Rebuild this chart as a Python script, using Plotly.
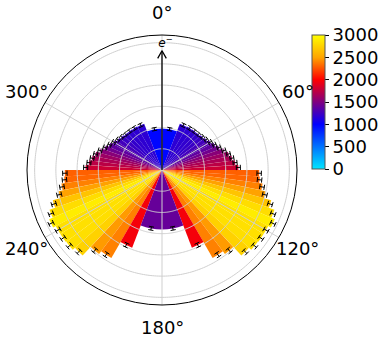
import numpy as np
import plotly.graph_objects as go

# ---- data -------------------------------------------------------------
# bin edges in polar angle (degrees), one hemisphere 0..180 (mirrored to 180..360)
bin_edges_deg = [0, 21.04, 29.93, 36.87, 42.83, 48.19, 53.13, 57.77, 62.18, 66.42,
                 70.53, 74.53, 78.46, 82.34, 86.18, 90, 93.82, 97.66, 101.54, 105.47,
                 109.47, 113.58, 117.82, 122.23, 126.87, 131.81, 137.17, 143.13,
                 150.07, 158.96, 180]
counts = [980, 1170, 1180, 1190, 1200, 1225, 1260, 1310, 1370, 1440, 1530, 1610, 1670,
          1730, 1800,
          2290, 2310, 2390, 2490, 2670, 2810, 2900, 2830, 2830, 2820, 2750, 2470, 2390,
          1960, 1400]
errors = [35, 40, 40, 40, 40, 40, 40, 42, 42, 43, 44, 45, 46, 47, 48,
          52, 52, 53, 54, 55, 56, 57, 56, 56, 56, 55, 53, 52, 48, 40]
angle_ticks = [0, 60, 120, 180, 240, 300]
angle_labels = ["0°", "60°", "120°", "180°", "240°", "300°"]
cbar_ticks = [0, 500, 1000, 1500, 2000, 2500, 3000]
grid_r = [500, 1000, 1500, 2000, 2500, 3000]
beam_label = "<i>e</i><sup>−</sup>"
beam_length = 2810

# ---- styling / geometry --------------------------------------------------
W, H = 382, 340
CX, CY, R_PX = 162, 170, 135
LABEL_R_PX = 157
R_MAX = 3180
PX_PER_UNIT = R_PX / R_MAX
CAP_HALF_PX = 2.6
FONT = "DejaVu Sans"
colorscale = [[0.0, "#00e6ff"], [1 / 3, "#0000ff"], [0.5, "#800080"],
              [2 / 3, "#ff0000"], [5 / 6, "#ffa500"], [1.0, "#ffff00"]]

edges = np.array(bin_edges_deg)
centers = (edges[:-1] + edges[1:]) / 2
widths = np.diff(edges)

theta = np.concatenate([centers, 360 - centers])
width = np.concatenate([widths, widths])
r = np.array(counts + counts, dtype=float)
err = np.array(errors + errors, dtype=float)

fig = go.Figure()

fig.add_trace(go.Barpolar(
    r=r, theta=theta, width=width,
    marker=dict(color=r, colorscale=colorscale, cmin=0, cmax=3000,
                line=dict(width=0),
                colorbar=dict(thickness=13, thicknessmode="pixels",
                              len=134, lenmode="pixels",
                              x=312 / W, xanchor="left", y=1 - 35 / H, yanchor="top",
                              xpad=0, ypad=0, outlinewidth=1, outlinecolor="#555555",
                              ticks="outside", ticklen=4, tickcolor="black",
                              tickvals=cbar_ticks,
                              tickfont=dict(family=FONT, size=18, color="black"))),
    showlegend=False, hoverinfo="skip"))

# grid overlay (drawn above bars as in the reference)
gr, gt = [], []
circ = np.linspace(0, 360, 361)
for g in grid_r:
    gr += [g] * len(circ) + [None]
    gt += list(circ) + [None]
for a in angle_ticks:
    gr += [0, R_MAX, None]
    gt += [a, a, None]
fig.add_trace(go.Scatterpolar(r=gr, theta=gt, mode="lines",
                              line=dict(color="#cfcfcf", width=1),
                              showlegend=False, hoverinfo="skip"))

# error bars
er, et = [], []
for c, v, e in zip(theta, r, err):
    for rr in (v - e, v + e):
        d = np.degrees(CAP_HALF_PX / (rr * PX_PER_UNIT))
        er += [rr, rr, None]
        et += [c - d, c + d, None]
    er += [v - e, v + e, None]
    et += [c, c, None]
fig.add_trace(go.Scatterpolar(r=er, theta=et, mode="lines",
                              line=dict(color="black", width=1),
                              showlegend=False, hoverinfo="skip"))

# beam arrow
tip_px = beam_length * PX_PER_UNIT
back_px, side_px = 7.7, 4.3
wing_r = np.hypot(tip_px - back_px, side_px) / PX_PER_UNIT
wing_t = np.degrees(np.arctan2(side_px, tip_px - back_px))
fig.add_trace(go.Scatterpolar(
    r=[0, beam_length, None, wing_r, beam_length, wing_r],
    theta=[0, 0, None, -wing_t, 0, wing_t],
    mode="lines", line=dict(color="black", width=1.3),
    showlegend=False, hoverinfo="skip"))
fig.add_trace(go.Scatterpolar(
    r=[2975], theta=[1.6], mode="text", text=[beam_label],
    textposition="middle center",
    textfont=dict(family=FONT, size=12, color="black"),
    showlegend=False, hoverinfo="skip"))

# angular tick labels, centred on a circle just outside the frame
annotations = []
for a, lab in zip(angle_ticks, angle_labels):
    ang = np.radians(a)
    annotations.append(dict(
        text=lab, showarrow=False, xref="paper", yref="paper",
        x=(CX + LABEL_R_PX * np.sin(ang)) / W,
        y=1 - (CY - LABEL_R_PX * np.cos(ang)) / H,
        xanchor="center", yanchor="middle",
        font=dict(family=FONT, size=18, color="black")))

fig.update_layout(
    width=W, height=H, autosize=False,
    margin=dict(l=0, r=0, t=0, b=0, pad=0, autoexpand=False),
    paper_bgcolor="white", plot_bgcolor="white",
    font=dict(family=FONT, size=18, color="black"),
    annotations=annotations,
    polar=dict(
        domain=dict(x=[(CX - R_PX) / W, (CX + R_PX) / W],
                    y=[1 - (CY + R_PX) / H, 1 - (CY - R_PX) / H]),
        bgcolor="white",
        bargap=0,
        radialaxis=dict(range=[0, R_MAX], showgrid=False, showline=False,
                        showticklabels=False, ticks=""),
        angularaxis=dict(rotation=90, direction="clockwise",
                         tickmode="array", tickvals=angle_ticks,
                         showticklabels=False, ticks="",
                         showgrid=False, showline=True, linecolor="black", linewidth=1),
    ),
)

fig.write_html(
    "out.html",
    config={"displayModeBar": False},
    post_script="document.body.style.margin='0px';document.body.style.overflow='hidden';",
)
